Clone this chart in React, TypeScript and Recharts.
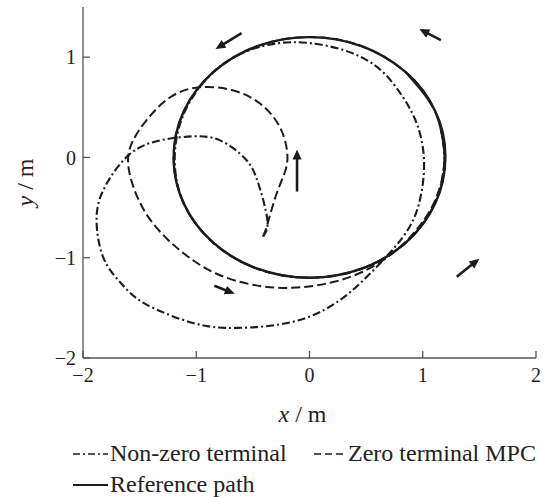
import { LineChart, Line, XAxis, YAxis, ReferenceLine, Legend, Label } from 'recharts';

// trajectories (x, y in metres)
const referencePath = [
  { x: 1.2, y: 0 }, { x: 1.11, y: 0.46 }, { x: 0.85, y: 0.85 }, { x: 0.46, y: 1.11 },
  { x: 0, y: 1.2 }, { x: -0.46, y: 1.11 }, { x: -0.85, y: 0.85 }, { x: -1.11, y: 0.46 },
  { x: -1.2, y: 0 }, { x: -1.11, y: -0.46 }, { x: -0.85, y: -0.85 }, { x: -0.46, y: -1.11 },
  { x: 0, y: -1.2 }, { x: 0.46, y: -1.11 }, { x: 0.85, y: -0.85 }, { x: 1.11, y: -0.46 },
  { x: 1.2, y: 0 }, { x: 1.11, y: 0.46 }, { x: 0.85, y: 0.85 },
];

const nonZeroTerminal = [
  { x: -0.41, y: -0.79 }, { x: -0.37, y: -0.66 }, { x: -0.41, y: -0.42 }, { x: -0.47, y: -0.2 },
  { x: -0.57, y: -0.01 }, { x: -0.79, y: 0.17 }, { x: -1.03, y: 0.21 }, { x: -1.32, y: 0.17 },
  { x: -1.59, y: 0.03 }, { x: -1.8, y: -0.28 }, { x: -1.88, y: -0.6 }, { x: -1.82, y: -1.0 },
  { x: -1.66, y: -1.26 }, { x: -1.45, y: -1.46 }, { x: -1.03, y: -1.65 }, { x: -0.64, y: -1.7 },
  { x: -0.15, y: -1.64 }, { x: 0.22, y: -1.46 }, { x: 0.47, y: -1.23 }, { x: 0.71, y: -0.95 },
  { x: 0.9, y: -0.66 }, { x: 0.99, y: -0.34 }, { x: 1.01, y: 0.0 }, { x: 0.95, y: 0.33 },
  { x: 0.82, y: 0.61 }, { x: 0.62, y: 0.88 }, { x: 0.33, y: 1.06 }, { x: 0.0, y: 1.14 },
  { x: -0.27, y: 1.14 }, { x: -0.55, y: 1.06 }, { x: -0.85, y: 0.85 }, { x: -1.1, y: 0.46 },
  { x: -1.19, y: 0.0 }, { x: -1.11, y: -0.46 }, { x: -0.85, y: -0.85 }, { x: -0.46, y: -1.11 },
  { x: 0, y: -1.2 }, { x: 0.46, y: -1.11 }, { x: 0.85, y: -0.85 }, { x: 1.1, y: -0.47 },
  { x: 1.19, y: -0.05 }, { x: 1.16, y: 0.27 },
];

const zeroTerminalMpc = [
  { x: -0.41, y: -0.79 }, { x: -0.37, y: -0.66 }, { x: -0.29, y: -0.36 }, { x: -0.21, y: -0.12 },
  { x: -0.2, y: 0.08 }, { x: -0.27, y: 0.32 }, { x: -0.44, y: 0.54 }, { x: -0.68, y: 0.67 },
  { x: -0.97, y: 0.7 }, { x: -1.23, y: 0.6 }, { x: -1.44, y: 0.37 }, { x: -1.57, y: 0.14 },
  { x: -1.6, y: -0.08 }, { x: -1.54, y: -0.34 }, { x: -1.42, y: -0.6 }, { x: -1.25, y: -0.82 },
  { x: -1.06, y: -1.0 }, { x: -0.82, y: -1.16 }, { x: -0.5, y: -1.27 }, { x: -0.15, y: -1.3 },
  { x: 0.18, y: -1.25 }, { x: 0.47, y: -1.14 }, { x: 0.74, y: -0.95 }, { x: 0.96, y: -0.7 },
  { x: 1.12, y: -0.4 }, { x: 1.19, y: -0.05 }, { x: 1.16, y: 0.3 }, { x: 1.05, y: 0.58 },
  { x: 0.85, y: 0.85 }, { x: 0.46, y: 1.11 }, { x: 0, y: 1.2 }, { x: -0.46, y: 1.11 },
  { x: -0.85, y: 0.85 }, { x: -1.11, y: 0.46 }, { x: -1.2, y: 0 }, { x: -1.11, y: -0.46 },
  { x: -0.85, y: -0.85 }, { x: -0.46, y: -1.11 }, { x: 0, y: -1.2 }, { x: 0.46, y: -1.11 },
  { x: 0.85, y: -0.85 }, { x: 1.08, y: -0.52 },
];

// direction arrows: tail -> head
const arrowTails = [
  { x: -0.6, y: 1.24 }, { x: 1.16, y: 1.17 }, { x: -0.11, y: -0.34 }, { x: -0.84, y: -1.28 }, { x: 1.3, y: -1.19 },
];
const arrowHeads = [
  { x: -0.83, y: 1.08 }, { x: 0.97, y: 1.28 }, { x: -0.11, y: 0.08 }, { x: -0.66, y: -1.36 }, { x: 1.5, y: -1.01 },
];

const xTicks = [-2, -1, 0, 1, 2];
const yTicks = [-2, -1, 0, 1];

const INK = '#1c1c1c';
const FRAME = '#555';
const FONT = "'Liberation Serif', 'DejaVu Serif', serif";

const fmt = (v: number) => String(v).replace('-', '\u2212');

const Arrow = (props: any) => {
  const { x1, y1, x2, y2 } = props;
  const dx = x2 - x1;
  const dy = y2 - y1;
  const len = Math.hypot(dx, dy) || 1;
  const ux = dx / len;
  const uy = dy / len;
  const head = 10;
  const half = 4.5;
  const bx = x2 - ux * head;
  const by = y2 - uy * head;
  return (
    <g>
      <line x1={x1} y1={y1} x2={bx + ux} y2={by + uy} stroke={INK} strokeWidth={2.6} />
      <polygon
        points={`${x2},${y2} ${bx - uy * half},${by + ux * half} ${bx + uy * half},${by - ux * half}`}
        fill={INK}
      />
    </g>
  );
};

const XLabel = (props: any) => {
  const { x, y, width } = props.viewBox;
  return (
    <text x={x + width / 2 - 7} y={y + 64} textAnchor="middle" style={{ fontFamily: FONT, fontSize: 24 }} fill="#222">
      <tspan fontStyle="italic">x</tspan> / m
    </text>
  );
};

const YLabel = (props: any) => {
  const { y, height } = props.viewBox;
  const cy = y + height / 2;
  return (
    <text x={33} y={cy} transform={`rotate(-90, 33, ${cy})`} textAnchor="middle" style={{ fontFamily: FONT, fontSize: 24 }} fill="#222">
      <tspan fontStyle="italic">y</tspan> / m
    </text>
  );
};

const LegendContent = () => (
  <svg width={545} height={62} style={{ display: 'block', fontFamily: FONT, fontSize: 24 }}>
    <g fill="#222">
      <line x1={73} y1={19} x2={108} y2={19} stroke={INK} strokeWidth={1.6} strokeDasharray="7 3 2 3" />
      <text x={110} y={26}>Non-zero terminal</text>
      <line x1={314} y1={19} x2={347} y2={19} stroke={INK} strokeWidth={1.6} strokeDasharray="7 4" />
      <text x={348} y={26}>Zero terminal MPC</text>
      <line x1={73} y1={50} x2={108} y2={50} stroke={INK} strokeWidth={1.8} />
      <text x={110} y={57}>Reference path</text>
    </g>
  </svg>
);

const tickStyle = { fontFamily: FONT, fontSize: 20, fill: '#222' };

export default function App() {
  return (
    <div style={{ position: 'absolute', left: 0, top: 0, width: 545, height: 497, background: '#fff', fontFamily: FONT }}>
      <LineChart width={545} height={497} margin={{ top: 7, right: 9, bottom: 0, left: 0 }}>
        <XAxis
          dataKey="x"
          type="number"
          domain={[-2, 2]}
          ticks={xTicks}
          allowDataOverflow
          height={139}
          tickSize={-7}
          tickMargin={17}
          tickFormatter={fmt}
          stroke={FRAME}
          strokeWidth={1.3}
          tick={tickStyle}
        >
          <Label content={XLabel} />
        </XAxis>
        <XAxis
          xAxisId="top"
          orientation="top"
          type="number"
          domain={[-2, 2]}
          ticks={xTicks}
          allowDataOverflow
          height={0}
          tickSize={-7}
          tick={false}
          stroke={FRAME}
          strokeWidth={1.3}
        />
        <YAxis
          dataKey="y"
          type="number"
          domain={[-2, 1.5]}
          ticks={yTicks}
          allowDataOverflow
          width={83}
          tickSize={-7}
          tickMargin={14}
          tickFormatter={fmt}
          stroke={FRAME}
          strokeWidth={1.3}
          tick={tickStyle}
        >
          <Label content={YLabel} />
        </YAxis>
        <YAxis
          yAxisId="right"
          orientation="right"
          type="number"
          domain={[-2, 1.5]}
          ticks={yTicks}
          allowDataOverflow
          width={0}
          tickSize={-7}
          tick={false}
          stroke={FRAME}
          strokeWidth={1.3}
        />
        <Legend
          layout="horizontal"
          verticalAlign="middle"
          align="center"
          content={LegendContent}
          wrapperStyle={{ top: 435, left: 0, width: 545, height: 62 }}
        />
        <Line
          data={referencePath}
          dataKey="y"
          name="Reference path"
          type="natural"
          stroke={INK}
          strokeWidth={2.4}
          dot={false}
          activeDot={false}
          isAnimationActive={false}
        />
        <Line
          data={zeroTerminalMpc}
          dataKey="y"
          name="Zero terminal MPC"
          type="natural"
          stroke={INK}
          strokeWidth={2}
          strokeDasharray="9 4"
          dot={false}
          activeDot={false}
          isAnimationActive={false}
        />
        <Line
          data={nonZeroTerminal}
          dataKey="y"
          name="Non-zero terminal"
          type="natural"
          stroke={INK}
          strokeWidth={2.1}
          strokeDasharray="8 3 2 3"
          dot={false}
          activeDot={false}
          isAnimationActive={false}
        />
        {arrowTails.map((t, i) => (
          <ReferenceLine
            key={i}
            segment={[t, arrowHeads[i]]}
            shape={Arrow}
            ifOverflow="visible"
          />
        ))}
      </LineChart>
    </div>
  );
}
